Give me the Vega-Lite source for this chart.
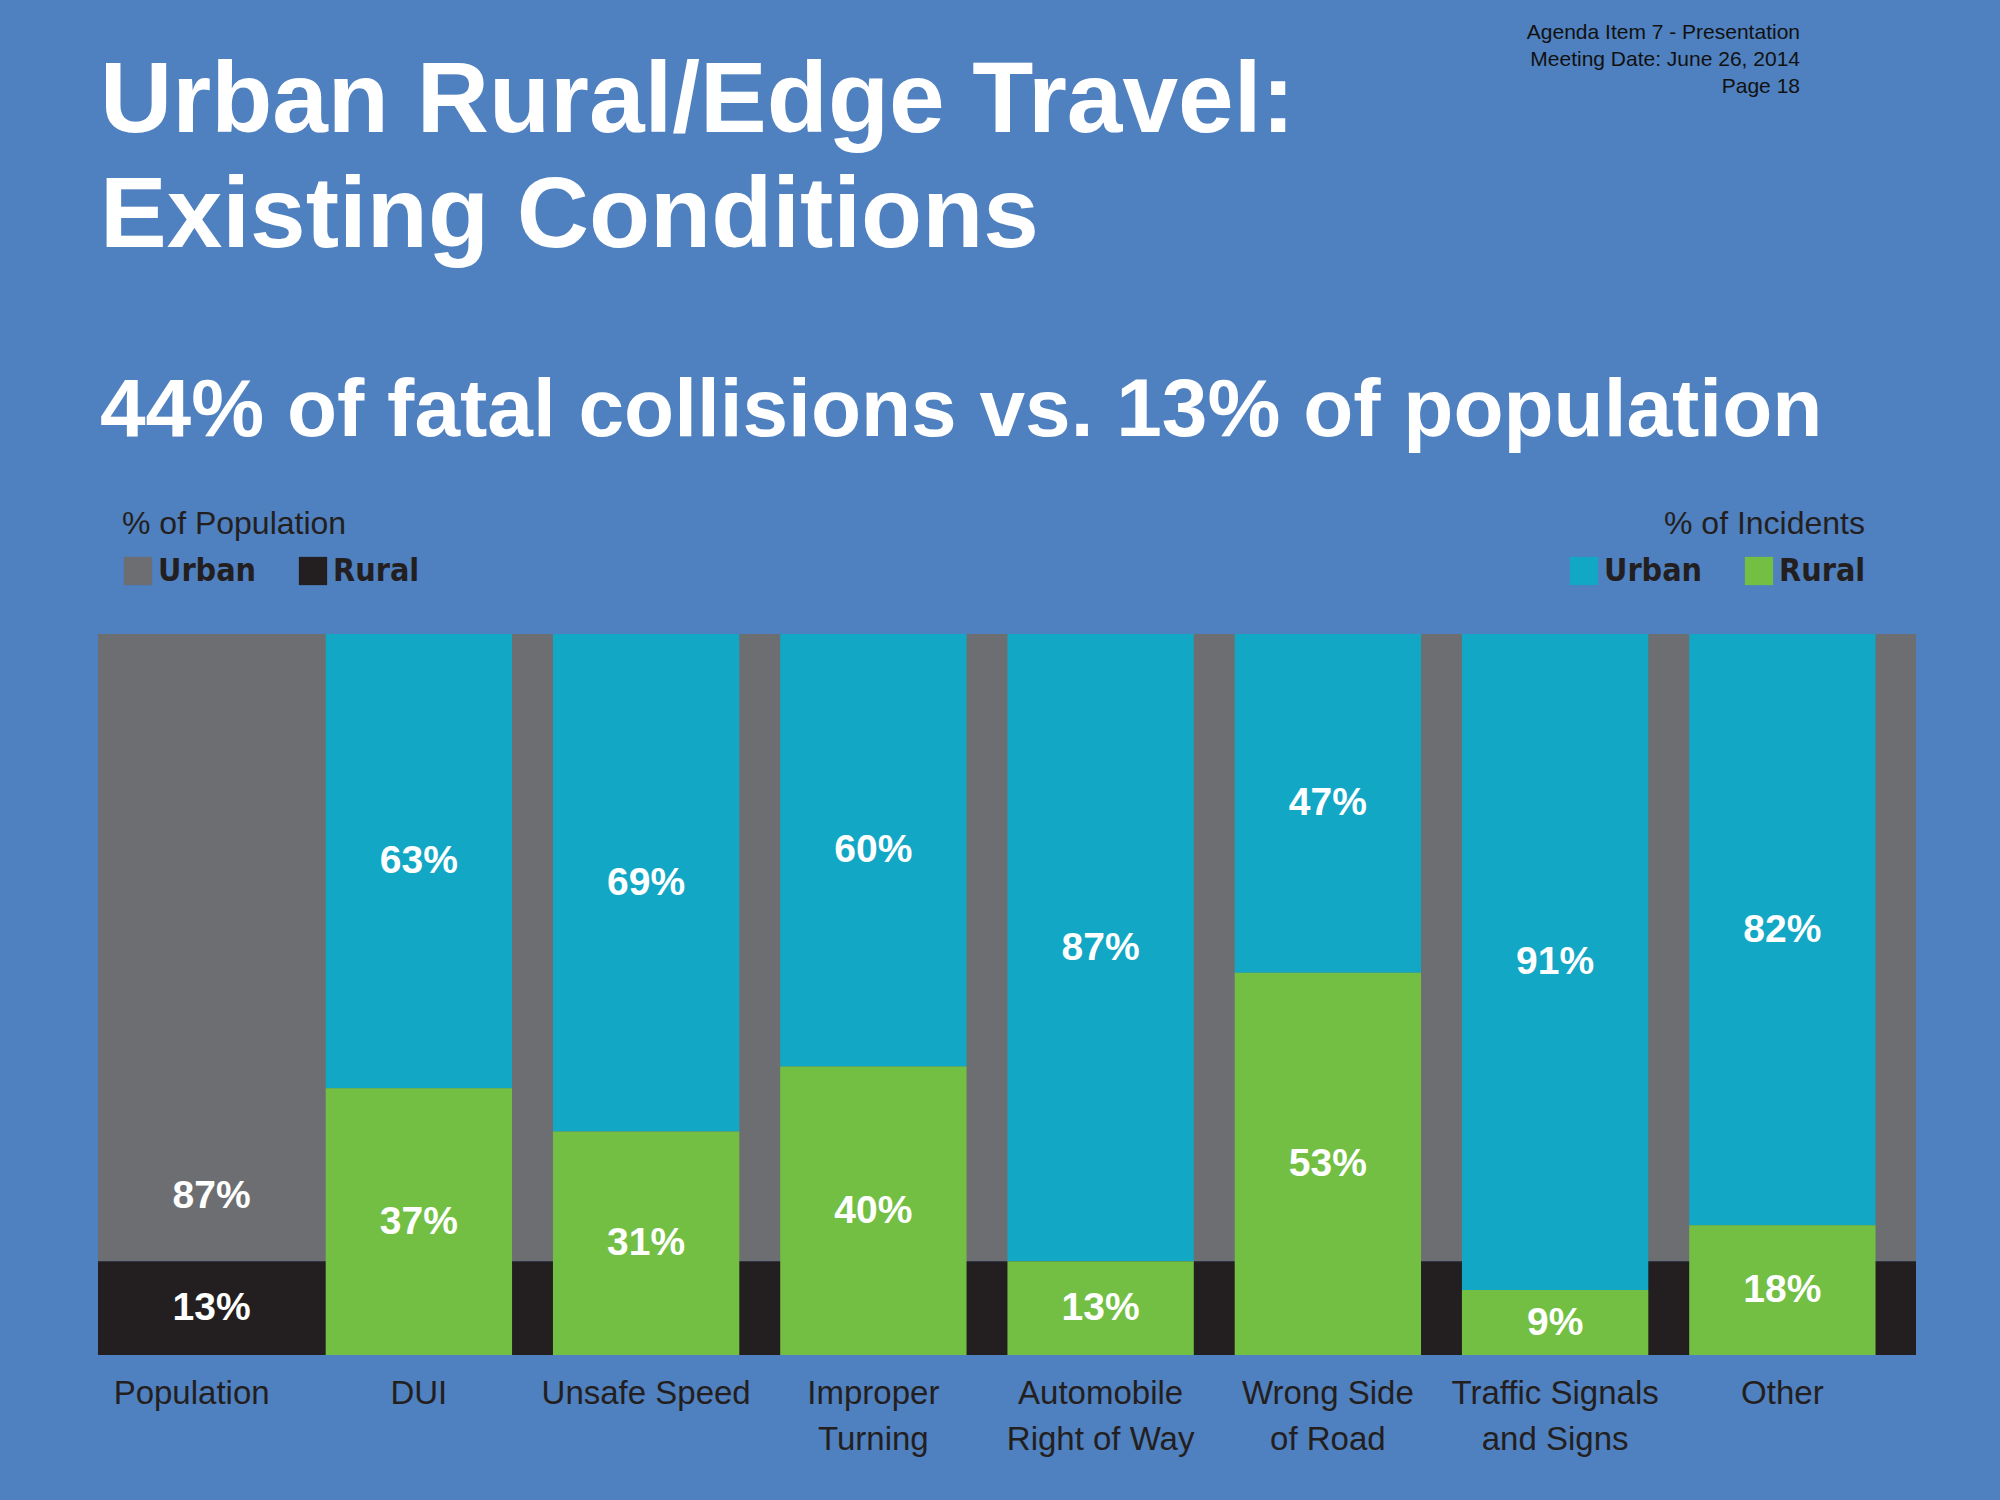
{
  "$schema": "https://vega.github.io/schema/vega-lite/v6.json",
  "width": 1818,
  "height": 721,
  "autosize": "none",
  "padding": {"left": 98, "top": 634, "right": 84, "bottom": 145},
  "background": "#4f80bf",
  "config": {"view": {"stroke": null}, "font": "Liberation Sans"},
  "datasets": {
    "pop": [
      {"cat": "Population", "seg": "Urban", "pct": 87},
      {"cat": "Population", "seg": "Rural", "pct": 13}
    ],
    "inc": [
      {"cat": "DUI", "seg": "Urban", "pct": 63},
      {"cat": "DUI", "seg": "Rural", "pct": 37},
      {"cat": "Unsafe Speed", "seg": "Urban", "pct": 69},
      {"cat": "Unsafe Speed", "seg": "Rural", "pct": 31},
      {"cat": "Improper Turning", "seg": "Urban", "pct": 60},
      {"cat": "Improper Turning", "seg": "Rural", "pct": 40},
      {"cat": "Automobile Right of Way", "seg": "Urban", "pct": 87},
      {"cat": "Automobile Right of Way", "seg": "Rural", "pct": 13},
      {"cat": "Wrong Side of Road", "seg": "Urban", "pct": 47},
      {"cat": "Wrong Side of Road", "seg": "Rural", "pct": 53},
      {"cat": "Traffic Signals and Signs", "seg": "Urban", "pct": 91},
      {"cat": "Traffic Signals and Signs", "seg": "Rural", "pct": 9},
      {"cat": "Other", "seg": "Urban", "pct": 82},
      {"cat": "Other", "seg": "Rural", "pct": 18}
    ],
    "note": [{"t": "x"}]
  },
  "resolve": {"scale": {"color": "independent"}},
  "layer": [
    {
      "data": {"name": "pop"},
      "transform": [{"stack": "pct", "groupby": ["cat"], "sort": [{"field": "seg", "order": "ascending"}], "as": ["lo", "hi"]}],
      "mark": {"type": "rect"},
      "encoding": {
        "y": {"field": "lo", "type": "quantitative", "scale": {"domain": [0, 100]}, "axis": null},
        "y2": {"field": "hi"},
        "color": {
          "field": "seg", "type": "nominal",
          "scale": {"domain": ["Urban", "Rural"], "range": ["#6d6e71", "#231f20"]},
          "legend": {
            "title": "% of Population", "orient": "none", "legendX": 24, "legendY": -125,
            "direction": "horizontal", "titleColor": "#231f20", "titleFontSize": 32, "titleFontWeight": "normal", "titleLimit": 500,
            "labelColor": "#231f20", "labelFontSize": 32, "labelFontWeight": "bold", "labelFont": "DejaVu Sans Condensed",
            "symbolType": "square", "symbolSize": 800, "symbolStrokeWidth": 0, "columnPadding": 40, "titlePadding": 14
          }
        }
      }
    },
    {
      "data": {"name": "inc"},
      "transform": [{"stack": "pct", "groupby": ["cat"], "sort": [{"field": "seg", "order": "ascending"}], "as": ["lo", "hi"]}],
      "mark": {"type": "bar", "width": {"band": 0.82}, "xOffset": -20},
      "encoding": {
        "x": {
          "field": "cat", "type": "nominal", "sort": null,
          "scale": {"domain": ["Population", "DUI", "Unsafe Speed", "Improper Turning", "Automobile Right of Way", "Wrong Side of Road", "Traffic Signals and Signs", "Other"], "paddingInner": 0, "paddingOuter": 0},
          "axis": {
            "title": null, "domain": false, "ticks": false, "labelAngle": 0, "labelFontSize": 33, "labelColor": "#231f20",
            "labelPadding": 22, "labelOffset": -20, "labelLineHeight": 46, "labelLimit": 500,
            "labelExpr": "datum.label == 'Improper Turning' ? ['Improper', 'Turning'] : datum.label == 'Automobile Right of Way' ? ['Automobile', 'Right of Way'] : datum.label == 'Wrong Side of Road' ? ['Wrong Side', 'of Road'] : datum.label == 'Traffic Signals and Signs' ? ['Traffic Signals', 'and Signs'] : datum.label"
          }
        },
        "y": {"field": "lo", "type": "quantitative", "scale": {"domain": [0, 100]}, "axis": null},
        "y2": {"field": "hi"},
        "color": {
          "field": "seg", "type": "nominal",
          "scale": {"domain": ["Urban", "Rural"], "range": ["#12a7c4", "#72bf44"]},
          "legend": {
            "title": "% of Incidents", "orient": "none", "legendX": 1470, "legendY": -125,
            "direction": "horizontal", "titleColor": "#231f20", "titleFontSize": 32, "titleFontWeight": "normal", "titleLimit": 500,
            "titleAlign": "right", "titleAnchor": "end",
            "labelColor": "#231f20", "labelFontSize": 32, "labelFontWeight": "bold", "labelFont": "DejaVu Sans Condensed",
            "symbolType": "square", "symbolSize": 800, "symbolStrokeWidth": 0, "columnPadding": 40, "titlePadding": 14
          }
        }
      }
    },
    {
      "data": {"name": "inc"},
      "transform": [
        {"stack": "pct", "groupby": ["cat"], "sort": [{"field": "seg", "order": "ascending"}], "as": ["lo", "hi"]},
        {"calculate": "(datum.lo + datum.hi) / 2", "as": "mid"},
        {"calculate": "datum.pct + '%'", "as": "lab"}
      ],
      "mark": {"type": "text", "color": "white", "fontSize": 39, "fontWeight": "bold", "xOffset": -20, "baseline": "middle"},
      "encoding": {
        "x": {"field": "cat", "type": "nominal", "sort": null},
        "y": {"field": "mid", "type": "quantitative"},
        "text": {"field": "lab"}
      }
    },
    {
      "data": {"name": "pop"},
      "transform": [
        {"stack": "pct", "groupby": ["cat"], "sort": [{"field": "seg", "order": "ascending"}], "as": ["lo", "hi"]},
        {"calculate": "datum.seg == 'Urban' ? datum.lo + 9 : (datum.lo + datum.hi) / 2", "as": "mid"},
        {"calculate": "datum.pct + '%'", "as": "lab"}
      ],
      "mark": {"type": "text", "color": "white", "fontSize": 39, "fontWeight": "bold", "baseline": "middle"},
      "encoding": {
        "x": {"field": "cat", "type": "nominal", "sort": null},
        "y": {"field": "mid", "type": "quantitative"},
        "text": {"field": "lab"}
      }
    },
    {
      "mark": {"type": "rule", "color": "#231f20", "strokeDash": [10, 6], "strokeWidth": 1.5},
      "encoding": {"y": {"datum": 13, "type": "quantitative"}}
    },
    {
      "data": {"name": "note"},
      "mark": {"type": "text", "align": "right", "baseline": "top", "fontSize": 21, "color": "#111", "lineHeight": 27},
      "encoding": {
        "x": {"value": 1702},
        "y": {"value": -612},
        "text": {"value": ["Agenda Item 7 - Presentation", "Meeting Date:  June 26, 2014", "Page 18"]}
      }
    },
    {
      "data": {"name": "note"},
      "mark": {"type": "text", "align": "left", "baseline": "alphabetic", "fontSize": 100, "fontWeight": "bold", "color": "white", "lineHeight": 115},
      "encoding": {
        "x": {"value": 2},
        "y": {"value": -502},
        "text": {"value": ["Urban Rural/Edge Travel:", "Existing Conditions"]}
      }
    },
    {
      "data": {"name": "note"},
      "mark": {"type": "text", "align": "left", "baseline": "alphabetic", "fontSize": 82, "fontWeight": "bold", "color": "white"},
      "encoding": {
        "x": {"value": 2},
        "y": {"value": -198},
        "text": {"value": "44% of fatal collisions vs. 13% of population"}
      }
    }
  ]
}
